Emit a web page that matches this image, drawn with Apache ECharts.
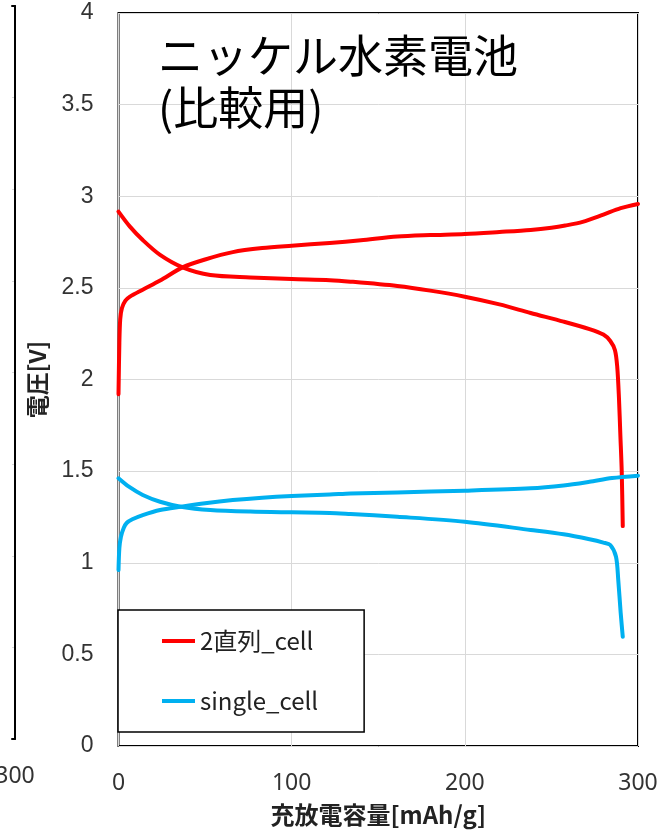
<!DOCTYPE html>
<html>
<head>
<meta charset="utf-8">
<script src="https://cdn.jsdelivr.net/npm/echarts@6/dist/echarts.min.js"></script>
<style>
html,body{margin:0;padding:0;background:#fff;}
#chart{width:670px;height:832px;}
</style>
</head>
<body>
<div id="chart"></div>
<script>
// ---- data (capacity mAh/g, voltage V) ----
const titleText = "ニッケル水素電池\n(比較用)";
const xAxisName = "充放電容量[mAh/g]";
const yAxisName = "電圧[V]";
const seriesNames = ["2直列_cell", "single_cell"];
const xTicks = [0, 100, 200, 300];
const yTicks = [0, 0.5, 1, 1.5, 2, 2.5, 3, 3.5, 4];

const red_charge = [[0,1.92],[0.5,2.2],[1,2.33],[2,2.39],[4,2.43],[6.6,2.452],[14,2.49],[24,2.54],[37,2.612],[50,2.655],[66,2.695],[83,2.717],[100,2.73],[122,2.745],[140,2.76],[161,2.78],[180,2.788],[200,2.794],[220,2.805],[238,2.816],[250,2.828],[258,2.84],[268,2.86],[280,2.9],[290,2.935],[300,2.958]];
const red_discharge = [[0,2.916],[6.6,2.834],[14,2.761],[24,2.68],[37,2.612],[53,2.57],[76,2.557],[100,2.548],[122,2.542],[134,2.534],[161,2.51],[180,2.485],[200,2.452],[220,2.41],[238,2.363],[257,2.316],[272,2.275],[280,2.245],[284,2.21],[286.7,2.16],[288,2.07],[289,1.9],[289.8,1.7],[290.6,1.5],[291.2,1.2]];
const blue_charge = [[0,0.96],[0.5,1.08],[1.4,1.142],[3,1.19],[4.7,1.217],[8,1.237],[14,1.26],[24,1.288],[36,1.306],[50,1.325],[66,1.342],[83,1.355],[100,1.364],[122,1.372],[134,1.378],[161,1.384],[200,1.393],[238,1.406],[257,1.422],[272,1.442],[285,1.462],[300,1.475]];
const blue_discharge = [[0,1.461],[6,1.415],[14,1.37],[24,1.333],[36,1.306],[53,1.288],[76,1.279],[100,1.275],[122,1.272],[134,1.266],[161,1.251],[200,1.224],[238,1.179],[257,1.155],[272,1.128],[280,1.11],[284,1.097],[287.3,1.033],[288.6,0.906],[290,0.726],[291.2,0.596]];

const RED = '#FF0000', BLUE = '#00B0F0';
const chart = echarts.init(document.getElementById('chart'), null, {renderer: 'canvas'});

function lineSeries(name, data, color) {
  return {
    name: name, type: 'line', xAxisIndex: 0, yAxisIndex: 0,
    data: data, showSymbol: false, symbol: 'none', smooth: 0.3,
    lineStyle: {color: color, width: 4, cap: 'round', join: 'round'},
    itemStyle: {color: color}, animation: false
  };
}

const gridLine = {show: true, lineStyle: {color: '#D9D9D9', width: 1}};
const yLabel = {fontSize: 23, color: '#333', fontFamily: 'Liberation Sans', margin: 25};
const xLabel = {fontSize: 23, color: '#333', fontFamily: 'Noto Sans', margin: 26};
const blackLine = {show: true, onZero: false, lineStyle: {color: '#000', width: 2}};

const option = {
  backgroundColor: '#fff',
  animation: false,
  title: {
    text: titleText, left: 153, top: 25,
    textStyle: {fontSize: 45, fontWeight: 'normal', color: '#000', lineHeight: 52, fontFamily: 'Noto Sans CJK JP'}
  },
  legend: {
    data: seriesNames, orient: 'vertical', left: 118, top: 610,
    icon: 'rect', itemWidth: 33, itemHeight: 4, itemGap: 36,
    padding: [19, 46, 19, 44],
    backgroundColor: '#fff', borderColor: '#000', borderWidth: 1.5, borderRadius: 0,
    textStyle: {fontSize: 24, color: '#222', fontFamily: 'Noto Sans CJK JP'}
  },
  grid: [
    {left: 118.5, top: 13, width: 519.5, height: 733, show: true, borderColor: '#000', borderWidth: 2, containLabel: false},
    {left: 0, top: 6, width: 12, height: 733, show: false, containLabel: false}
  ],
  xAxis: [
    {type: 'value', gridIndex: 0, min: xTicks[0], max: xTicks[xTicks.length-1], interval: 100,
     name: xAxisName, nameLocation: 'middle', nameGap: 57,
     nameTextStyle: {fontSize: 24, fontWeight: 'bold', color: '#222', fontFamily: 'Noto Sans CJK JP'},
     axisLine: {show: false}, axisTick: {show: false}, axisLabel: xLabel, splitLine: gridLine},
    {type: 'value', gridIndex: 1, position: 'bottom', min: 0, max: 300, interval: 300,
     axisLine: blackLine, axisTick: {show: false},
     axisLabel: Object.assign({}, xLabel, {showMinLabel: false}), splitLine: {show: false}},
    {type: 'value', gridIndex: 1, position: 'top', min: 0, max: 300, interval: 300,
     axisLine: blackLine, axisTick: {show: false}, axisLabel: {show: false}, splitLine: {show: false}}
  ],
  yAxis: [
    {type: 'value', gridIndex: 0, min: yTicks[0], max: yTicks[yTicks.length-1], interval: 0.5,
     name: yAxisName, nameLocation: 'middle', nameGap: 70, nameRotate: 90,
     nameTextStyle: {fontSize: 23, fontWeight: 'bold', color: '#222', fontFamily: 'Noto Sans CJK JP'},
     axisLine: {show: false}, axisTick: {show: false}, axisLabel: yLabel, splitLine: gridLine},
    {type: 'value', gridIndex: 1, position: 'right', min: yTicks[0], max: yTicks[yTicks.length-1], interval: 0.5,
     axisLine: blackLine, axisTick: {show: false}, axisLabel: {show: false}, splitLine: gridLine}
  ],
  series: [
    lineSeries(seriesNames[0], red_charge, RED),
    lineSeries(seriesNames[0], red_discharge, RED),
    lineSeries(seriesNames[1], blue_charge, BLUE),
    lineSeries(seriesNames[1], blue_discharge, BLUE)
  ]
};
chart.setOption(option);
</script>
</body>
</html>
